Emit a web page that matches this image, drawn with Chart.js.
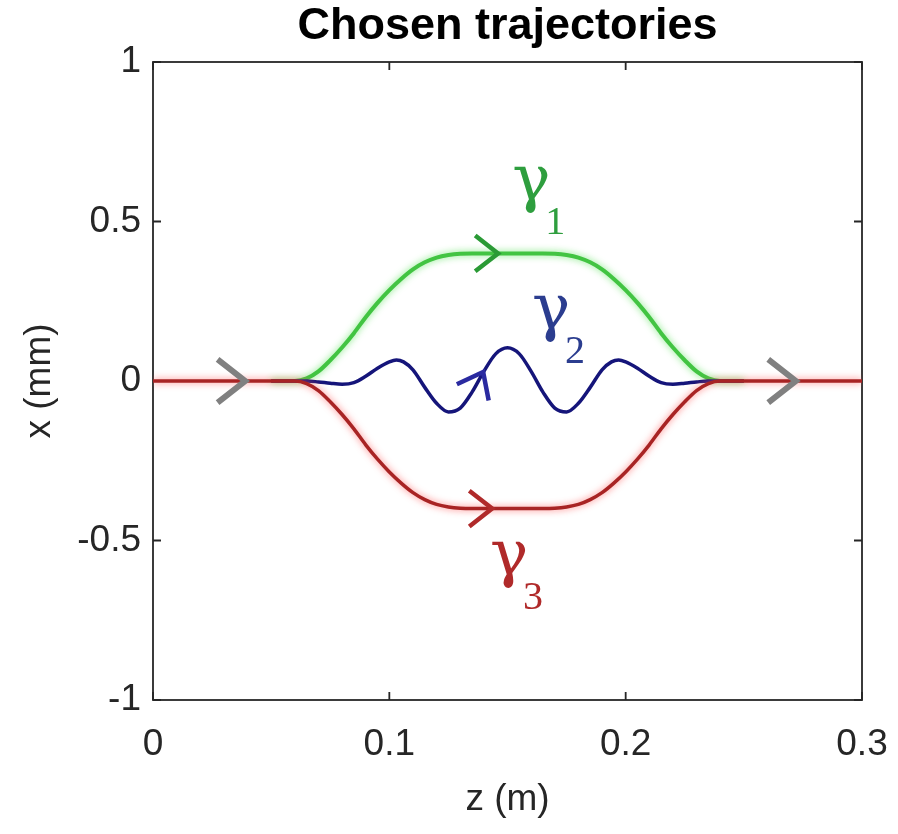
<!DOCTYPE html>
<html>
<head>
<meta charset="utf-8">
<script src="https://cdn.jsdelivr.net/npm/chart.js@4.4.0/dist/chart.umd.min.js"></script>
<style>
  html, body { margin: 0; padding: 0; background: #fff; }
  #wrap { width: 898px; height: 834px; }
</style>
</head>
<body>
<div id="wrap"><canvas id="trajChart"></canvas></div>
<script>
// trajectory samples (z in m, x in mm)
const zGreen = [0.05, 0.06, 0.065, 0.07, 0.075, 0.08, 0.085, 0.09, 0.095, 0.1, 0.105, 0.11, 0.115, 0.12, 0.125, 0.13, 0.135, 0.15, 0.165, 0.17, 0.175, 0.18, 0.185, 0.19, 0.195, 0.2, 0.205, 0.21, 0.215, 0.22, 0.225, 0.23, 0.235, 0.24, 0.25];
const xGreen = [0, 0, 0.008, 0.03, 0.065, 0.105, 0.15, 0.2, 0.245, 0.285, 0.32, 0.35, 0.372, 0.387, 0.395, 0.399, 0.4, 0.4, 0.4, 0.399, 0.395, 0.387, 0.372, 0.35, 0.32, 0.285, 0.245, 0.2, 0.15, 0.105, 0.065, 0.03, 0.008, 0, 0];

const zRed = [0, 0.06, 0.065, 0.07, 0.075, 0.08, 0.085, 0.09, 0.095, 0.1, 0.105, 0.11, 0.115, 0.12, 0.125, 0.13, 0.135, 0.15, 0.165, 0.17, 0.175, 0.18, 0.185, 0.19, 0.195, 0.2, 0.205, 0.21, 0.215, 0.22, 0.225, 0.23, 0.235, 0.24, 0.3];
const xRed = [0, 0, -0.008, -0.03, -0.065, -0.105, -0.15, -0.2, -0.245, -0.285, -0.32, -0.35, -0.372, -0.387, -0.395, -0.399, -0.4, -0.4, -0.4, -0.399, -0.395, -0.387, -0.372, -0.35, -0.32, -0.285, -0.245, -0.2, -0.15, -0.105, -0.065, -0.03, -0.008, 0, 0];

const zBlue = [0.05, 0.065, 0.07, 0.075, 0.08, 0.085, 0.09, 0.095, 0.1, 0.103, 0.106, 0.11, 0.115, 0.12, 0.125, 0.13, 0.135, 0.14, 0.145, 0.15, 0.155, 0.16, 0.165, 0.17, 0.175, 0.18, 0.185, 0.19, 0.194, 0.197, 0.2, 0.205, 0.21, 0.215, 0.22, 0.225, 0.23, 0.235, 0.25];
const xBlue = [0, 0, -0.003, -0.007, -0.01, -0.005, 0.015, 0.04, 0.06, 0.066, 0.06, 0.035, -0.02, -0.07, -0.097, -0.085, -0.035, 0.03, 0.085, 0.104, 0.085, 0.03, -0.035, -0.085, -0.097, -0.07, -0.02, 0.035, 0.06, 0.066, 0.06, 0.04, 0.015, -0.005, -0.01, -0.007, -0.003, 0, 0];

// direction arrows (tip position, pointing angle in degrees, 0 = right, 90 = up)
const arrowZ = [0.039, 0.272, 0.146, 0.1435, 0.1397];
const arrowX = [0, 0, 0.4, -0.4, 0.028];
const arrowDir = [0, 0, 0, 0, 63];

// curve names
const labelText = ['γ', 'γ', 'γ'];
const labelSub = ['1', '2', '3'];
const labelZ = [0.152, 0.1604, 0.1426];
const labelX = [0.568, 0.163, -0.609];

const arrowColors = ['#808080', '#808080', '#2a9a35', '#b02a2a', '#2a2aa0'];
const arrowSizes = [35, 35, 29, 29, 29];
const labelColors = ['#2e9e3e', '#2b3d8f', '#b02a2a'];

const toPts = (zs, xs) => zs.map((z, i) => ({ x: z, y: xs[i] }));
const fmt = v => String(Math.round(v * 100) / 100);

const glowPlugin = {
  id: 'glow',
  beforeDatasetDraw(chart, args) {
    const ds = chart.data.datasets[args.index];
    if (!ds.glow) return;
    chart.ctx.save();
    chart.ctx.shadowColor = ds.glow;
    chart.ctx.shadowBlur = 7;
  },
  afterDatasetDraw(chart, args) {
    if (chart.data.datasets[args.index].glow) chart.ctx.restore();
  }
};

// matlab-style box with inward ticks
const boxPlugin = {
  id: 'box',
  beforeDatasetsDraw(chart) {
    const { ctx, chartArea: a, scales: { x, y } } = chart;
    ctx.save();
    ctx.strokeStyle = '#262626';
    ctx.lineWidth = 1.8;
    ctx.strokeRect(a.left, a.top, a.right - a.left, a.bottom - a.top);
    const t = 8;
    ctx.beginPath();
    x.ticks.forEach(tk => {
      const px = x.getPixelForValue(tk.value);
      ctx.moveTo(px, a.bottom); ctx.lineTo(px, a.bottom - t);
      ctx.moveTo(px, a.top); ctx.lineTo(px, a.top + t);
    });
    y.ticks.forEach(tk => {
      const py = y.getPixelForValue(tk.value);
      ctx.moveTo(a.left, py); ctx.lineTo(a.left + t, py);
      ctx.moveTo(a.right, py); ctx.lineTo(a.right - t, py);
    });
    ctx.stroke();
    ctx.restore();
  }
};

const marksPlugin = {
  id: 'marks',
  afterDatasetsDraw(chart) {
    const { ctx, scales: { x, y } } = chart;
    ctx.save();
    ctx.lineCap = 'butt';
    ctx.lineJoin = 'miter';
    arrowZ.forEach((z, i) => {
      const px = x.getPixelForValue(z);
      const py = y.getPixelForValue(arrowX[i]);
      const a = -arrowDir[i] * Math.PI / 180;
      const h = 38 * Math.PI / 180;
      const L = arrowSizes[i];
      ctx.strokeStyle = arrowColors[i];
      ctx.lineWidth = i < 2 ? 6 : 4.5;
      ctx.beginPath();
      ctx.moveTo(px + L * Math.cos(a + Math.PI - h), py + L * Math.sin(a + Math.PI - h));
      ctx.lineTo(px, py);
      ctx.lineTo(px + L * Math.cos(a + Math.PI + h), py + L * Math.sin(a + Math.PI + h));
      ctx.stroke();
    });
    ctx.textAlign = 'left';
    ctx.textBaseline = 'alphabetic';
    labelZ.forEach((z, i) => {
      const px = x.getPixelForValue(z);
      const py = y.getPixelForValue(labelX[i]);
      ctx.fillStyle = labelColors[i];
      ctx.font = '64px "DejaVu Serif", "Liberation Serif", serif';
      ctx.fillText(labelText[i], px, py);
      ctx.font = '40px "Liberation Serif", "DejaVu Serif", serif';
      ctx.fillText(labelSub[i], px + 33, py + 34);
    });
    ctx.restore();
  }
};

const tickFont = { family: '"Liberation Sans", Arial, sans-serif', size: 37 };

new Chart(document.getElementById('trajChart'), {
  type: 'line',
  data: {
    datasets: [
      {
        label: 'gamma3',
        data: toPts(zRed, xRed),
        borderColor: '#a82424',
        borderWidth: 3.5,
        glow: 'rgba(255,90,90,0.8)'
      },
      {
        label: 'gamma2',
        data: toPts(zBlue, xBlue),
        borderColor: '#15157a',
        borderWidth: 3.5
      },
      {
        label: 'gamma1',
        data: toPts(zGreen, xGreen),
        borderColor: '#42c442',
        borderWidth: 4,
        glow: 'rgba(110,230,110,0.9)'
      }
    ]
  },
  options: {
    responsive: true,
    maintainAspectRatio: false,
    animation: false,
    elements: {
      point: { radius: 0 },
      line: { cubicInterpolationMode: 'monotone', fill: false }
    },
    layout: { padding: { top: 0, left: 0, right: 36, bottom: 0 } },
    plugins: {
      legend: { display: false },
      tooltip: { enabled: false },
      title: {
        display: true,
        fullSize: false,
        text: 'Chosen trajectories',
        color: '#000',
        font: { family: '"Liberation Sans", Arial, sans-serif', size: 45, weight: 'bold' },
        padding: { top: 0, bottom: 8 }
      }
    },
    scales: {
      x: {
        type: 'linear',
        min: 0,
        max: 0.3,
        afterFit: s => { s.height = 134; s.paddingLeft = 0; s.paddingRight = 0; },
        ticks: { stepSize: 0.1, color: '#262626', font: tickFont, padding: 23, maxRotation: 0, callback: fmt },
        grid: { drawOnChartArea: false, drawTicks: false },
        border: { display: false },
        title: { display: true, text: 'z (m)', color: '#262626', font: tickFont, padding: { top: 4, bottom: 12 } }
      },
      y: {
        min: -1,
        max: 1,
        afterFit: s => { s.width = 153; },
        ticks: { stepSize: 0.5, color: '#262626', font: tickFont, padding: 12, callback: fmt },
        grid: { drawOnChartArea: false, drawTicks: false },
        border: { display: false },
        title: { display: true, text: 'x (mm)', color: '#262626', font: tickFont, padding: { top: 18, bottom: 0 } }
      }
    }
  },
  plugins: [glowPlugin, boxPlugin, marksPlugin]
});
</script>
</body>
</html>
